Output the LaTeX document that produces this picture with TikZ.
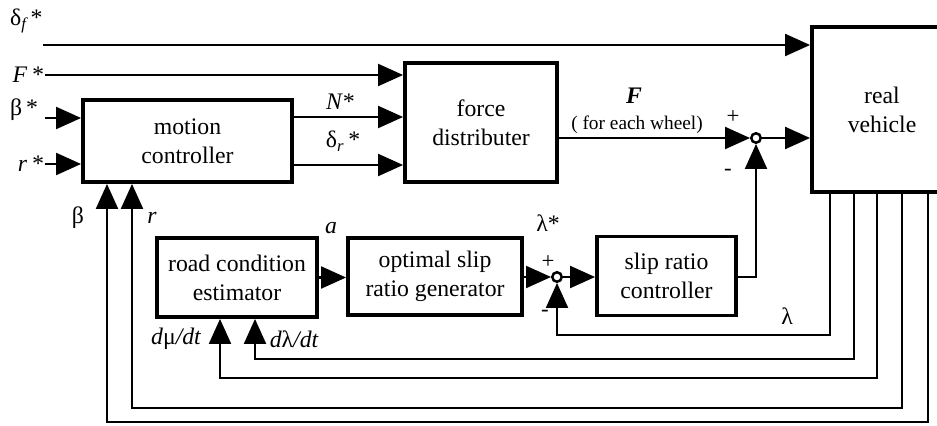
\documentclass[tikz,border=0pt]{standalone}
\usepackage{fontspec}
\setmainfont{Liberation Serif}
\usepackage{tikz}
\usetikzlibrary{arrows.meta, positioning}
\tikzset{
  block/.style={rectangle, draw=black, line width=2.2pt, fill=white,
    align=center, font=\fontsize{13.5}{16.5}\selectfont},
  junction/.style={circle, draw=black, line width=1.4pt, fill=white,
    inner sep=0pt, minimum size=1.9mm},
  sig/.style={inner sep=1pt, font=\fontsize{13.5}{16}\selectfont},
  sign/.style={inner sep=0pt, font=\fontsize{13}{14}\selectfont},
  arrowline/.style={-{Triangle[length=5mm, width=4.4mm]}, line width=1.2pt}
}
\newcommand{\starred}[1]{#1\,*}

\begin{document}
\begin{tikzpicture}[x=0.2mm, y=-0.2mm]
  \clip (0,0) rectangle (937,425);

  % blocks
  \node[block, minimum width=41.8mm, minimum height=16.4mm] (motion) at (187.5,141) {motion\\controller};
  \node[block, minimum width=30.4mm, minimum height=23.8mm] (force) at (481,122.5) {force\\distributer};
  \node[block, minimum width=28mm, minimum height=33mm] (vehicle) at (882,109.5) {real\\vehicle};
  \node[block, minimum width=32mm, minimum height=15.8mm] (road) at (237,277.5) {road condition\\estimator};
  \node[block, minimum width=34.8mm, minimum height=15.4mm] (optimal) at (435,276.5) {optimal slip\\ratio generator};
  \node[block, minimum width=27.8mm, minimum height=15.8mm] (slipctrl) at (666.5,276) {slip ratio\\controller};
  \node[junction] (sumF) at (756,138) {};
  \node[junction] (sumL) at (557,277) {};

  % reference inputs
  \node[sig, anchor=west] (dfstar) at (8,21) {δ\textsubscript{\itshape f}\,*};
  \coordinate (dfin) at (43,45);
  \node[sig, anchor=east] (Fstar) at (45,75) {\starred{\itshape F}};
  \node[sig, anchor=west] (bstar) at (8,110) {β\,*};
  \coordinate (bin) at (45,118);
  \node[sig, anchor=east] (rstar) at (45,164) {\starred{\itshape r}};

  \draw[arrowline] (dfin) -- (dfin -| vehicle.west);
  \draw[arrowline] (Fstar.east) -- (Fstar.east -| force.west);
  \draw[arrowline] (bin) -- (bin -| motion.west);
  \draw[arrowline] (rstar.east) -- (rstar.east -| motion.west);

  % motion controller -> force distributer
  \coordinate (nout) at (292,117);
  \coordinate (drout) at (292,165);
  \draw[arrowline] (nout -| motion.east) -- (nout -| force.west);
  \draw[arrowline] (drout -| motion.east) -- (drout -| force.west);
  \node[sig] (Nlab) at (340,102) {\itshape N*};
  \node[sig] (drlab) at (343,141) {δ\textsubscript{\itshape r}\,*};

  % force -> vehicle
  \draw[arrowline] (sumF -| force.east) -- (sumF.west);
  \draw[arrowline] (sumF.east) -- (sumF -| vehicle.west);
  \node[sig] (Flab) at (634,96) {\bfseries\itshape F};
  \node[inner sep=0pt, font=\fontsize{11}{12}\selectfont] (eachlab) at (637,125) {( for each wheel)};
  \node[sign] (plusF) at (733,117) {+};
  \node[sign] (minusF) at (728,172) {-};

  % slip loop
  \draw[arrowline] (road.east) -- (road.east -| optimal.west);
  \draw[arrowline] (optimal.east |- sumL) -- (sumL.west);
  \draw[arrowline] (sumL.east) -- (sumL -| slipctrl.west);
  \draw[arrowline] (slipctrl.east |- sumL) -| (sumF.south);
  \node[sig] (alab) at (331,228) {\itshape a};
  \node[sig] (lslab) at (548,223) {λ*};
  \node[sign] (plusL) at (548,262) {+};
  \node[sign] (minusL) at (545,313) {-};

  % feedback from the vehicle
  \coordinate (lamturn) at (830,335);
  \coordinate (dlturn) at (854,359);
  \coordinate (dmturn) at (877,378);
  \coordinate (rturn) at (902,408);
  \coordinate (bturn) at (928,422);
  \draw[arrowline] (vehicle.south -| lamturn) |- (sumL |- lamturn) -- (sumL.south);
  \draw[arrowline] (vehicle.south -| dlturn) |- (255,359) -- (255,317.5 |- road.south);
  \draw[arrowline] (vehicle.south -| dmturn) |- (220,378) -- (220,317.5 |- road.south);
  \draw[arrowline] (vehicle.south -| rturn) |- (132,408) -- (132,182 |- motion.south);
  \draw[arrowline] (vehicle.south -| bturn) |- (107,422) -- (107,182 |- motion.south);
  \node[sig] (lamlab) at (787,316) {λ};
  \node[sig] (dllab) at (294,339) {\itshape d\upshape λ\itshape /dt};
  \node[sig] (dmlab) at (176,339) {\itshape d\upshape μ\itshape /dt};
  \node[sig] (rlab) at (152,218) {\itshape r};
  \node[sig] (blab) at (78,218) {β};
\end{tikzpicture}
\end{document}
